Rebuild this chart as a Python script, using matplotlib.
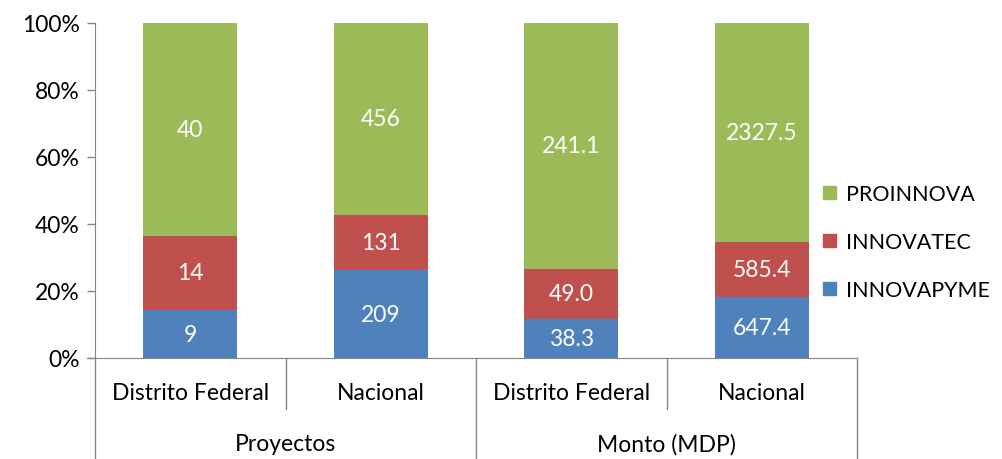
import matplotlib.pyplot as plt
import numpy as np
from matplotlib.patches import Patch

plt.rcParams['font.family'] = ['Lato', 'DejaVu Sans']

subcats = ['Distrito Federal', 'Nacional', 'Distrito Federal', 'Nacional']
groups = ['Proyectos', 'Monto (MDP)']
innovapyme = [9, 209, 38.3, 647.4]
innovatec = [14, 131, 49.0, 585.4]
proinnova = [40, 456, 241.1, 2327.5]
labels_pyme = ['9', '209', '38.3', '647.4']
labels_tec = ['14', '131', '49.0', '585.4']
labels_pro = ['40', '456', '241.1', '2327.5']

blue = '#4F81BD'
red = '#C0504D'
green = '#9BBB59'
gray = '#868686'

W, H = 1002, 460
fig = plt.figure(figsize=(W / 100, H / 100), dpi=100)
ax = fig.add_axes([95 / W, (H - 359) / H, (857 - 95) / W, 335 / H])

a = np.array(innovapyme)
b = np.array(innovatec)
c = np.array(proinnova)
tot = a + b + c
pa, pb, pc = a / tot, b / tot, c / tot
x = np.arange(len(subcats)) + 0.5
bw = 0.495

ax.bar(x, pa, bw, color=blue)
ax.bar(x, pb, bw, bottom=pa, color=red)
ax.bar(x, pc, bw, bottom=pa + pb, color=green)

fs = 16.5
for i in range(len(x)):
    ax.text(x[i], pa[i] / 2, labels_pyme[i], ha='center', va='center', color='white', fontsize=fs)
    ax.text(x[i], pa[i] + pb[i] / 2, labels_tec[i], ha='center', va='center', color='white', fontsize=fs)
    ax.text(x[i], pa[i] + pb[i] + pc[i] / 2, labels_pro[i], ha='center', va='center', color='white', fontsize=fs)

ax.set_xlim(0, 4)
ax.set_ylim(0, 1)
ax.set_yticks(np.arange(0, 1.01, 0.2))
ax.set_yticklabels(['%d%%' % v for v in range(0, 101, 20)])
ax.tick_params(axis='y', length=6, width=1, color=gray, labelsize=fs, pad=5)
ax.set_xticks([])
for s in ['top', 'right']:
    ax.spines[s].set_visible(False)
ax.spines['left'].set_color(gray)
ax.spines['bottom'].set_color(gray)
ax.spines['bottom'].set_bounds(-0.04, 4)

trans = ax.get_xaxis_transform()
y_mid = -(410 - 359) / 335
y_bot = -(H - 359) / 335
for xv in [1, 3]:
    ax.plot([xv, xv], [0, y_mid], color=gray, lw=1, transform=trans, clip_on=False)
for xv in [0, 2, 4]:
    ax.plot([xv, xv], [0, y_bot], color=gray, lw=1, transform=trans, clip_on=False)

for i, lab in enumerate(subcats):
    ax.text(x[i], -(394 - 359) / 335, lab, ha='center', va='center', fontsize=fs, transform=trans)
for j, g in enumerate(groups):
    ax.text(1 + 2 * j, -(445 - 359) / 335, g, ha='center', va='center', fontsize=fs, transform=trans)

handles = [Patch(color=green), Patch(color=red), Patch(color=blue)]
fig.legend(handles, ['PROINNOVA', 'INNOVATEC', 'INNOVAPYME'], loc='center left',
           bbox_to_anchor=(823 / W, (H - 243) / H), frameon=False, fontsize=15.5,
           borderpad=0, borderaxespad=0,
           handlelength=0.6, handleheight=0.6, handletextpad=0.45, labelspacing=1.3)

fig.savefig('out.png', dpi=100)
